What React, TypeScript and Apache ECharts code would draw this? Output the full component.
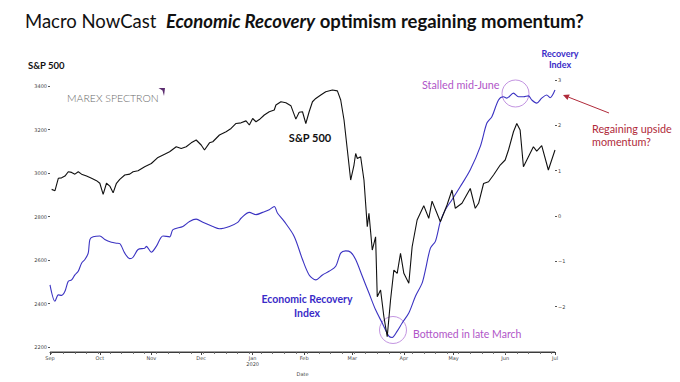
import React, { useEffect, useRef } from "react";
import * as echarts from "echarts";

// ---- Data ----
const spxDates = [
  "2019-09-02","2019-09-04","2019-09-06","2019-09-08","2019-09-10","2019-09-12","2019-09-14","2019-09-16","2019-09-18","2019-09-20",
  "2019-09-23","2019-09-26","2019-09-29","2019-10-01","2019-10-03","2019-10-05","2019-10-07","2019-10-09","2019-10-11","2019-10-13",
  "2019-10-16","2019-10-19","2019-10-21","2019-10-24","2019-10-28","2019-11-01","2019-11-05","2019-11-09","2019-11-12","2019-11-16",
  "2019-11-19","2019-11-22","2019-11-25","2019-11-28","2019-12-01","2019-12-03","2019-12-06","2019-12-08","2019-12-12","2019-12-16",
  "2019-12-19","2019-12-22","2019-12-25","2019-12-28","2019-12-30","2020-01-01","2020-01-03","2020-01-05","2020-01-08","2020-01-11",
  "2020-01-14","2020-01-15","2020-01-18","2020-01-21","2020-01-24","2020-01-27","2020-01-29","2020-01-31","2020-02-02","2020-02-04",
  "2020-02-06","2020-02-08","2020-02-11","2020-02-14","2020-02-18","2020-02-21","2020-02-23","2020-02-25","2020-02-27","2020-02-29",
  "2020-03-02","2020-03-03","2020-03-04","2020-03-06","2020-03-08","2020-03-10","2020-03-11","2020-03-13","2020-03-15","2020-03-16",
  "2020-03-18","2020-03-20","2020-03-22","2020-03-24","2020-03-26","2020-03-28","2020-03-30","2020-04-01","2020-04-04","2020-04-06",
  "2020-04-09","2020-04-13","2020-04-16","2020-04-18","2020-04-23","2020-04-27","2020-04-30","2020-05-02","2020-05-06","2020-05-11",
  "2020-05-14","2020-05-16","2020-05-19","2020-05-22","2020-05-25","2020-05-29","2020-06-01","2020-06-03","2020-06-06","2020-06-08",
  "2020-06-10","2020-06-12","2020-06-15","2020-06-18","2020-06-20","2020-06-23","2020-06-27","2020-07-01",
];
const spxValues = [
  2925,2919,2976,2978,2986,3006,3003,2995,3006,2995,
  2986,2976,2965,2953,2902,2953,2940,2909,2953,2971,
  2991,2995,3006,3011,3029,3044,3072,3087,3098,3121,
  3113,3121,3139,3152,3129,3106,3139,3144,3175,3190,
  3205,3228,3231,3240,3221,3251,3236,3246,3267,3282,
  3290,3313,3328,3323,3310,3248,3280,3282,3228,3282,
  3328,3343,3359,3374,3382,3378,3336,3244,3106,2968,
  3037,3090,3067,3075,2968,2753,2815,2646,2707,2431,
  2462,2339,2247,2416,2554,2539,2631,2539,2493,2661,
  2784,2850,2792,2871,2776,2853,2922,2838,2861,2929,
  2838,2861,2952,2960,2991,3037,3060,3106,3190,3228,
  3198,3029,3075,3121,3101,3126,3014,3106,
];

const riDates = [
  "2019-09-01","2019-09-04","2019-09-06","2019-09-08","2019-09-10","2019-09-12","2019-09-14","2019-09-16","2019-09-18","2019-09-20",
  "2019-09-22","2019-09-24","2019-09-25","2019-09-27","2019-10-01","2019-10-04","2019-10-08","2019-10-11","2019-10-13","2019-10-16",
  "2019-10-19","2019-10-21","2019-10-24","2019-10-28","2019-10-29","2019-11-01","2019-11-04","2019-11-08","2019-11-12","2019-11-14",
  "2019-11-20","2019-11-24","2019-11-28","2019-12-02","2019-12-08","2019-12-12","2019-12-18","2019-12-23","2019-12-25","2019-12-30",
  "2020-01-03","2020-01-07","2020-01-11","2020-01-14","2020-01-16","2020-01-20","2020-01-26","2020-01-31","2020-02-04","2020-02-08",
  "2020-02-12","2020-02-16","2020-02-20","2020-02-23","2020-02-26","2020-02-29","2020-03-03","2020-03-07","2020-03-11","2020-03-15",
  "2020-03-19","2020-03-23","2020-03-25","2020-03-28","2020-03-31","2020-04-04","2020-04-08","2020-04-12","2020-04-14","2020-04-17",
  "2020-04-20","2020-04-23","2020-04-26","2020-04-30","2020-05-05","2020-05-11","2020-05-17","2020-05-21","2020-05-24","2020-05-28",
  "2020-05-31","2020-06-02","2020-06-06","2020-06-09","2020-06-12","2020-06-15","2020-06-17","2020-06-20","2020-06-23","2020-06-26",
  "2020-06-28","2020-07-01",
];
const riValues = [
  -1.52,-1.88,-1.74,-1.75,-1.66,-1.44,-1.41,-1.30,-1.22,-1.04,
  -0.96,-0.82,-0.52,-0.46,-0.44,-0.52,-0.58,-0.60,-0.61,-0.82,
  -0.94,-0.91,-0.74,-0.71,-0.67,-0.80,-0.67,-0.44,-0.46,-0.30,
  -0.23,-0.12,-0.07,-0.14,-0.23,-0.28,-0.23,-0.14,-0.05,0.08,
  0.03,0.08,0.14,0.21,0.06,-0.12,-0.45,-0.96,-1.30,-1.41,
  -1.30,-1.22,-1.11,-0.82,-0.77,-0.80,-0.96,-1.33,-1.70,-2.07,
  -2.36,-2.65,-2.68,-2.54,-2.36,-2.14,-1.77,-1.48,-1.19,-0.71,
  -0.56,-0.12,0.14,0.36,0.65,1.02,1.53,2.05,2.19,2.56,
  2.63,2.60,2.71,2.63,2.63,2.65,2.56,2.49,2.60,2.67,
  2.61,2.78,
];

const monthStarts = [
  "2019-09-01","2019-10-01","2019-11-01","2019-12-01","2020-01-01","2020-02-01",
  "2020-03-01","2020-04-01","2020-05-01","2020-06-01","2020-07-01",
];
const monthLabels = ["Sep","Oct","Nov","Dec","Jan\n2020","Feb","Mar","Apr","May","Jun","Jul"];
const leftTicks = [2200, 2400, 2600, 2800, 3000, 3200, 3400];
const rightTicks = [-2, -1, 0, 1, 2, 3];

const DAY = 86400000;
const toTs = (s: string) => {
  const [y, m, d] = s.split("-").map(Number);
  return Date.UTC(y, m - 1, d);
};

const TICK_FONT = "DejaVu Sans";
const CAL = "Lato, 'Open Sans', sans-serif";

const GRID = { left: 50, right: 125, top: 80, bottom: 30 };

export default function App() {
  const ref = useRef<HTMLDivElement>(null);
  useEffect(() => {
    if (!ref.current) return;
    const chart = echarts.init(ref.current, null, { renderer: "svg" });
    const xMin = toTs(monthStarts[0]);
    const xMax = toTs(monthStarts[monthStarts.length - 1]);
    const monthTs = monthStarts.map(toTs);
    const weekTs: number[] = [];
    for (let t = toTs("2019-09-02"); t < xMax; t += 7 * DAY) weekTs.push(t);

    const tickLabel = { fontFamily: TICK_FONT, fontSize: 5, color: "#444" };
    const W = 680, H = 382;
    const baseY = H - GRID.bottom;

    chart.setOption({
      animation: false,
      backgroundColor: "#ffffff",
      grid: { ...GRID, containLabel: false },
      xAxis: [
        {
          type: "value",
          min: xMin,
          max: xMax,
          position: "bottom",
          name: "Date",
          nameLocation: "middle",
          nameGap: 17,
          nameTextStyle: { fontFamily: TICK_FONT, fontSize: 5, color: "#444" },
          axisLine: { show: true, onZero: false, lineStyle: { color: "#333", width: 1 } },
          axisTick: { show: true, length: 3, customValues: monthTs, lineStyle: { color: "#444" } },
          axisLabel: {
            ...tickLabel,
            margin: 3,
            lineHeight: 6,
            customValues: monthTs,
            formatter: (v: number) => {
              const i = monthTs.indexOf(v);
              return i >= 0 ? monthLabels[i] : "";
            },
          },
          splitLine: { show: false },
        },
        {
          type: "value",
          min: xMin,
          max: xMax,
          position: "bottom",
          axisLine: { show: false, onZero: false },
          axisTick: { show: true, length: 2, customValues: weekTs, lineStyle: { color: "#777" } },
          axisLabel: { show: false },
          splitLine: { show: false },
        },
      ],
      yAxis: [
        {
          type: "value",
          position: "left",
          min: 2177,
          max: 3428,
          axisLine: { show: false, onZero: false },
          axisTick: { show: true, length: 2, customValues: leftTicks, lineStyle: { color: "#555" } },
          axisLabel: { ...tickLabel, margin: 3, customValues: leftTicks, formatter: (v: number) => String(v) },
          splitLine: { show: false },
        },
        {
          type: "value",
          position: "right",
          min: -3,
          max: 3,
          axisLine: { show: false, onZero: false },
          axisTick: { show: true, length: 2, customValues: rightTicks, lineStyle: { color: "#555" } },
          axisLabel: {
            ...tickLabel,
            margin: 3,
            customValues: rightTicks,
            formatter: (v: number) => (v < 0 ? "\u2212" + Math.abs(v) : String(v)),
          },
          splitLine: { show: false },
        },
      ],
      series: [
        {
          name: "S&P 500",
          type: "line",
          xAxisIndex: 0,
          yAxisIndex: 0,
          showSymbol: false,
          data: spxDates.map((d, i) => [toTs(d), spxValues[i]]),
          lineStyle: { color: "#111111", width: 1.1 },
          itemStyle: { color: "#111111" },
          z: 3,
        },
        {
          name: "Recovery Index",
          type: "line",
          xAxisIndex: 0,
          yAxisIndex: 1,
          showSymbol: false,
          smooth: 0.3,
          data: riDates.map((d, i) => [toTs(d), riValues[i]]),
          lineStyle: { color: "#3b33c2", width: 1.1 },
          itemStyle: { color: "#3b33c2" },
          z: 2,
        },
      ],
      graphic: [
        {
          type: "line",
          z: 100,
          shape: { x1: GRID.left, y1: baseY, x2: W - GRID.right, y2: baseY },
          style: { stroke: "#444", lineWidth: 1 },
        },
        {
          type: "text",
          left: 25,
          top: 11,
          style: {
            text: "{r|Macro NowCast  }{bi|Economic Recovery}{b| optimism regaining momentum?}",
            rich: {
              r: { fontFamily: CAL, fontSize: 18.5, fill: "#111" },
              bi: { fontFamily: CAL, fontSize: 18.5, fontWeight: "bold", fontStyle: "italic", fill: "#111" },
              b: { fontFamily: CAL, fontSize: 18.5, fontWeight: "bold", fill: "#111" },
            },
          },
        },
        {
          type: "text",
          x: 28,
          y: 65,
          style: { text: "S&P 500", fontFamily: CAL, fontSize: 9.5, fontWeight: "bold", fill: "#111", verticalAlign: "middle" },
        },
        {
          type: "text",
          x: 560,
          y: 59,
          style: {
            text: "Recovery\nIndex",
            fontFamily: CAL,
            fontSize: 9,
            lineHeight: 11,
            fontWeight: "bold",
            fill: "#3a2cc8",
            align: "center",
            verticalAlign: "middle",
          },
        },
        {
          type: "text",
          x: 67,
          y: 98,
          style: {
            text: "MAREX SPECTRON",
            fontFamily: CAL,
            fontSize: 10.5,
            fontWeight: 300,
            fill: "#6a6a6a",
            verticalAlign: "middle",
          },
        },
        {
          type: "polygon",
          shape: { points: [[158.5, 88], [165, 88], [164, 96], [162.5, 90.5]] },
          style: { fill: "#5b2c6f" },
        },
        {
          type: "text",
          x: 310,
          y: 137,
          style: { text: "S&P 500", fontFamily: CAL, fontSize: 11, fontWeight: "bold", fill: "#111", align: "center", verticalAlign: "middle" },
        },
        {
          type: "text",
          x: 307,
          y: 306,
          style: {
            text: "Economic Recovery\nIndex",
            fontFamily: CAL,
            fontSize: 10.5,
            lineHeight: 14,
            fontWeight: "bold",
            fill: "#3a2cc8",
            align: "center",
            verticalAlign: "middle",
          },
        },
        {
          type: "text",
          x: 422,
          y: 84,
          style: { text: "Stalled mid-June", fontFamily: CAL, fontSize: 10.8, fill: "#b055c8", verticalAlign: "middle" },
        },
        {
          type: "circle",
          shape: { cx: 515.5, cy: 93.5, r: 13.5 },
          style: { fill: "none", stroke: "#bb88dd", lineWidth: 0.9 },
        },
        {
          type: "text",
          x: 413,
          y: 334,
          style: { text: "Bottomed in late March", fontFamily: CAL, fontSize: 10.5, fill: "#b055c8", verticalAlign: "middle" },
        },
        {
          type: "circle",
          shape: { cx: 393, cy: 330, r: 13.5 },
          style: { fill: "none", stroke: "#bb88dd", lineWidth: 0.9 },
        },
        {
          type: "line",
          shape: { x1: 609, y1: 113, x2: 568.6, y2: 97.2 },
          style: { stroke: "#b02a3a", lineWidth: 1 },
        },
        {
          type: "polygon",
          shape: { points: [[563, 95], [569.7, 94.4], [567.5, 100.0]] },
          style: { fill: "#b02a3a" },
        },
        {
          type: "text",
          x: 592,
          y: 135,
          style: {
            text: "Regaining upside\nmomentum?",
            fontFamily: CAL,
            fontSize: 10.8,
            lineHeight: 13.5,
            fill: "#b02a3a",
            verticalAlign: "middle",
          },
        },
      ],
    });
    return () => chart.dispose();
  }, []);

  return (
    <div
      ref={ref}
      style={{ position: "absolute", left: 0, top: 0, width: 680, height: 382, background: "#fff" }}
    />
  );
}
